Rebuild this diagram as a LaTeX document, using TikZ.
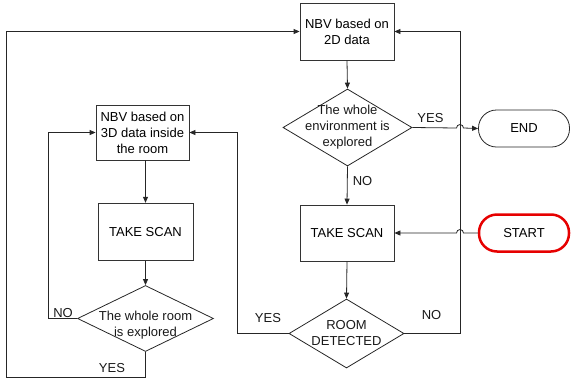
\documentclass[tikz,border=0pt]{standalone}
\usepackage{fontspec}
\setmainfont{Liberation Sans}
\usetikzlibrary{shapes.geometric,arrows.meta}
\definecolor{startred}{RGB}{230,0,0}
\begin{document}
\begin{tikzpicture}[x=1pt,y=-1pt,
  font=\fontsize{13}{16}\selectfont,
  line/.style={draw=black!85, line width=0.8pt},
  arr/.style={line, -{Triangle[length=6pt,width=5pt]}},
  box/.style={draw=black!80, line width=0.8pt, rectangle, align=center, inner sep=0pt},
  dia/.style={draw=black!85, line width=0.8pt, diamond, inner sep=0pt},
  term/.style={rectangle, rounded corners=18pt, align=center, inner sep=0pt},
  txt/.style={inner sep=0pt, align=center, text=black!90},
  lbl/.style={inner sep=0pt, text=black!90}
]
\useasboundingbox (0,0) rectangle (571,389);

% right column
\node[box, minimum width=94pt, minimum height=57pt] (n2d) at (347,31.5) {NBV based on\\2D data};
\node[dia, minimum width=129pt, minimum height=77pt] (d1) at (347.5,127.5) {};
\node[txt] (d1t) at (347.5,127.5) {The whole\\environment is\\explored};
\node[box, minimum width=94pt, minimum height=56pt] (scanR) at (347,233) {TAKE SCAN};
\node[dia, minimum width=115pt, minimum height=69pt] (d2) at (346.5,333.5) {};
\node[txt] (d2t) at (346.5,333) {ROOM\\DETECTED};

% terminals
\node[term, draw=black!85, line width=0.8pt, minimum width=91pt, minimum height=37pt] (end) at (524,128.5) {END};
\node[term, draw=startred, line width=2.5pt, minimum width=90pt, minimum height=37pt] (start) at (524,233) {START};

% left column
\node[box, minimum width=93pt, minimum height=55pt] (n3d) at (142.5,132.5) {NBV based on\\3D data inside\\the room};
\node[box, minimum width=95pt, minimum height=57pt] (scanL) at (145.5,231.7) {TAKE SCAN};
\node[dia, minimum width=136pt, minimum height=66pt] (d3) at (145.5,318.5) {};
\node[txt] (d3t) at (145.5,325) {The whole room\\is explored};

% helper coordinates
\coordinate (j1) at (460,128);
\coordinate (j2) at (460,233);
\coordinate (r1) at (460,333.5);
\coordinate (m1) at (237,333.5);
\coordinate (l1) at (48,318.5);
\coordinate (b1) at (145.5,377);
\coordinate (b2) at (6,377);

% connectors
\draw[arr] (n2d.south) -- (d1.north);
\draw[arr] (d1.east) -- ([xshift=-3.5pt]j1) arc[start angle=180, end angle=0, radius=3.5pt] -- (end.west);
\draw[arr] (d1.south) -- (scanR.north);
\draw[arr] (start.west) -- ([xshift=3.5pt]j2) arc[start angle=0, end angle=180, radius=3.5pt] -- (scanR.east);
\draw[arr] (scanR.south) -- (d2.north);
\draw[arr] (d2.east) -- (r1) |- (n2d.east);
\draw[arr] (d2.west) -- (m1) |- (n3d.east);
\draw[arr] (scanL.north |- n3d.south) -- (scanL.north);
\draw[arr] (scanL.south) -- (d3.north);
\draw[arr] (d3.west) -- (l1) |- (n3d.west);
\draw[arr] (d3.south) -- (b1) -- (b2) |- (n2d.west);

% labels
\node[lbl] (yes1) at (430.5,118) {YES};
\node[lbl] (no1) at (362.5,181) {NO};
\node[lbl] (no2) at (431.5,315.5) {NO};
\node[lbl] (yes2) at (268,318) {YES};
\node[lbl] (no3) at (63,313) {NO};
\node[lbl] (yes3) at (112,368) {YES};
\end{tikzpicture}
\end{document}
